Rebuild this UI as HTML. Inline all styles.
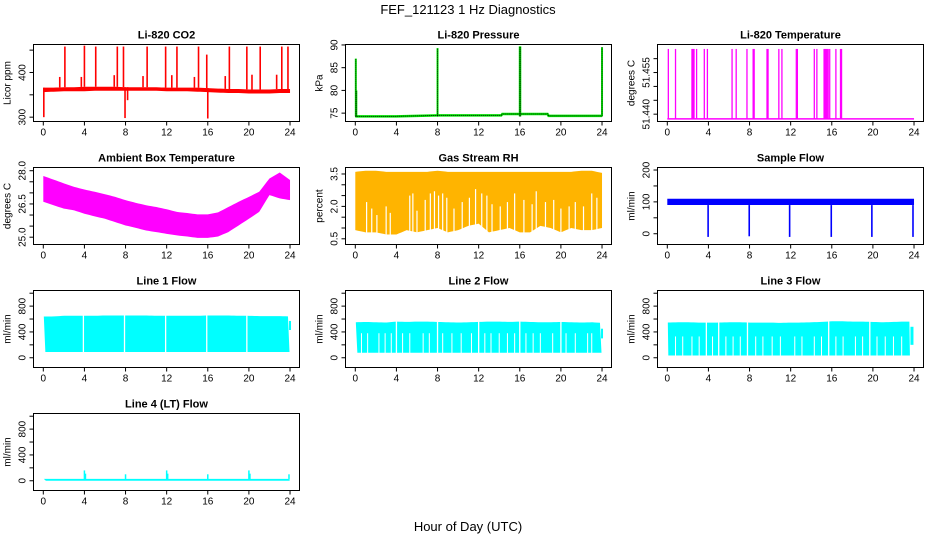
<!DOCTYPE html>
<html><head><meta charset="utf-8">
<style>
body{margin:0;background:#fff;}
svg{display:block;font-family:"Liberation Sans",Arial,sans-serif;}
</style></head>
<body>
<svg id="fig" width="936" height="540" viewBox="0 0 936 540" xmlns="http://www.w3.org/2000/svg">
<text x="468" y="14" text-anchor="middle" font-size="13">FEF_121123  1 Hz Diagnostics</text>
<text x="468" y="531" text-anchor="middle" font-size="13">Hour of Day (UTC)</text>
</svg>
<script>
// ---- data (hour of day) ----
const hours = [0,1,2,3,4,5,6,7,8,9,10,11,12,13,14,15,16,17,18,19,20,21,22,23,24];
const co2Lo = [356,357,358,358,358,359,359,359,359,359,359,359,358,358,358,357,356,355,354,354,353,353,353,354,354];
const co2Hi = [366,366,367,367,368,368,368,368,367,367,367,367,366,366,366,366,365,364,363,363,362,362,362,363,363];
const co2SpikeT = [0.05,1.6,2.1,3.7,4.0,5.1,6.9,7.2,7.8,7.95,8.2,9.7,10.1,11.9,12.5,13.0,14.7,15.1,15.9,16.0,17.7,18.1,19.8,20.3,21.1,22.7,23.2,23.8];
const co2SpikeV = [300,390,458,390,460,458,394,458,458,298,338,392,458,458,394,458,390,458,440,297,392,458,458,395,458,395,458,458];
const presT = [0,4,8,12,14.2,14.3,16,18.7,18.8,24];
const presV = [74.3,74.3,74.5,74.5,74.5,74.8,74.8,74.8,74.4,74.4];
const presSpikeT = [0.05,0.1,8.0,16.0,16.05,24.0];
const presSpikeV = [87,80,89.3,89.7,89.7,89.5];
const tempLow = 51.4383, tempHigh = 51.4635;
const tempSpikeT = [0.1,0.8,2.4,2.5,2.6,2.85,3.6,3.9,6.3,6.7,7.75,8.35,8.45,9.7,9.8,10.85,11.15,12.55,12.65,14.3,14.55,15.25,15.35,15.45,15.55,15.65,15.8,16.4,16.85,16.95];
const ambHi = [27.76,27.6,27.43,27.27,27.15,27.05,26.94,26.82,26.67,26.55,26.44,26.36,26.26,26.14,26.09,26.03,26.03,26.12,26.36,26.6,26.82,27.05,27.65,27.92,27.58];
const ambLo = [26.6,26.44,26.29,26.21,26.06,25.94,25.83,25.68,25.53,25.42,25.3,25.23,25.15,25.08,25.03,24.97,24.97,25.03,25.23,25.53,25.83,26.14,26.9,26.75,26.67];
const rhHi = [3.6,3.65,3.65,3.6,3.6,3.6,3.6,3.6,3.65,3.6,3.6,3.6,3.6,3.6,3.6,3.6,3.6,3.6,3.6,3.6,3.6,3.6,3.65,3.65,3.55];
const rhLo = [0.9,0.8,0.8,0.7,0.7,0.9,0.8,0.9,1.0,0.8,0.9,1.1,1.2,0.8,0.9,1.0,0.8,0.8,1.1,1.0,0.8,1.0,0.9,0.9,1.0];
const rhGapT = [1.1,1.6,2.1,3.0,3.4,5.3,5.6,6.0,6.8,7.3,7.7,8.1,8.5,8.9,9.6,10.4,11.1,11.7,12.3,12.8,13.3,14.1,14.8,15.5,16.4,17.2,17.6,18.5,19.3,20.0,20.8,21.4,22.2,23.0,23.5];
const rhGapV = [2.2,1.9,1.6,2.0,1.7,2.5,2.6,1.8,2.3,2.6,2.7,2.5,2.6,2.4,1.9,2.2,2.4,2.8,2.6,2.5,2.1,2.0,2.2,2.6,2.3,2.1,2.7,2.2,2.3,1.9,2.0,2.2,2.0,2.6,2.4];
const sfLo = 90, sfHi = 110;
const sfDipT = [3.97,7.97,11.9,15.95,19.9,23.9];
const sfDipV = [-10,-8,-10,-10,-10,-10];
const l1Lo = 90, l1Hi = [640,640,650,650,650,650,655,655,655,655,655,650,650,650,650,650,655,655,655,650,650,645,645,645,640];
const l1GapT = [3.9,7.9,11.9,15.9,19.8];
const l2Lo = 78, l2Hi = [550,555,550,545,560,555,560,560,555,550,545,550,555,560,560,555,560,555,550,550,555,550,545,550,540];
const l2GapT = [4.0,8.0,12.0,16.0,20.0];
const l2InnerT = [0.6,1.2,2.3,2.9,3.5,4.6,5.3,6.6,7.2,8.5,9.4,10.3,11.3,12.6,13.2,14.0,14.8,15.5,16.6,17.3,18.0,19.2,20.5,21.4,22.6,23.0];
const l3Lo = 35, l3Hi = [545,550,550,545,545,545,550,550,545,545,545,540,545,545,550,555,565,565,560,560,555,550,555,560,560];
const l3GapT = [3.8,5.0,7.8,15.7,19.7];
const l3InnerT = [0.8,1.5,2.4,3.1,4.4,5.7,6.4,7.1,8.6,9.3,10.2,11.0,12.4,13.1,14.3,15.0,16.4,17.1,18.3,19.0,20.4,21.2,22.0,22.8];
const l4Base = 15;
const l4SpikeT = [4.0,4.1,8.0,12.0,12.1,16.0,20.0,20.1,23.9];
const l4SpikeV = [160,110,100,160,110,100,160,110,100];

const xTicks = [0,4,8,12,16,20,24];
const NS = "http://www.w3.org/2000/svg";
const svg = document.getElementById('fig');
const colL = [33.5,345.5,657.5], rowT = [44.5,167.5,290.5,413.5], W = 266, H = 77;

function mk(tag, attrs, parent){const e=document.createElementNS(NS,tag);for(const k in attrs)e.setAttribute(k,attrs[k]);(parent||svg).appendChild(e);return e;}
function interp(arr,t){const i=Math.min(23,Math.floor(t));const f=t-i;return arr[i]*(1-f)+arr[i+1]*f;}

function panel(name,col,row,title,ylab,yMin,yMax,yTicks,yLabels){
  const L=colL[col],T=rowT[row];
  const g=mk('g',{});
  
  
  const sx=h=>L+9.8+h*10.28;
  const sy=v=>T+H-(v-yMin)/(yMax-yMin)*H;
  const tt=mk('text',{x:L+W/2,y:T-6,'text-anchor':'middle','font-size':11,'font-weight':'bold'},g);
  tt.textContent=title;
  
  
  const plot=mk('g',{},g);
  
  
  const ax=mk('g',{stroke:'#000','stroke-width':1,fill:'none'},g);
  
  
  mk('rect',{x:L,y:T,width:W,height:H},ax);
  xTicks.forEach(h=>{const x=sx(h);mk('line',{x1:x,y1:T+H,x2:x,y2:T+H+4},ax);
    const t=mk('text',{x:x,y:T+H+14,'text-anchor':'middle','font-size':10,fill:'#000',stroke:'none'},g);t.textContent=h;
    
    });
  yTicks.forEach(v=>{const y=sy(v);mk('line',{x1:L,y1:y,x2:L-4,y2:y},ax);});
  yLabels.forEach(v=>{const y=sy(v);const t=mk('text',{x:L-8,y:y,'text-anchor':'middle','font-size':10,transform:`rotate(-90 ${L-8} ${y})`},g);t.textContent=v;
    
    });
  const yl=mk('text',{x:L-23,y:T+H/2,'text-anchor':'middle','font-size':10,transform:`rotate(-90 ${L-23} ${T+H/2})`},g);
  yl.textContent=ylab;
  
  
  return {sx,sy,plot};
}
function band(p,lo,hi,fill,t0,t1){
  t0=t0||0;t1=t1===undefined?24:t1;
  const pts=[];
  for(let t=t0;t<=t1+1e-9;t+=0.25)pts.push(p.sx(t)+','+p.sy(typeof hi==='number'?hi:interp(hi,t)));
  for(let t=t1;t>=t0-1e-9;t-=0.25)pts.push(p.sx(t)+','+p.sy(typeof lo==='number'?lo:interp(lo,t)));
  const e=mk('polygon',{points:pts.join(' '),fill:fill},p.plot);
  
  
}
function vline(p,t,v0,v1,color,w,name){
  const e=mk('line',{x1:p.sx(t),x2:p.sx(t),y1:p.sy(v0),y2:p.sy(v1),stroke:color,'stroke-width':w||1},p.plot);
  
  
}

// CO2
let p=panel('co2',0,0,'Li-820 CO2','Licor ppm',290.3,462.6,[300,350,400,450],[300,400]);
band(p,co2Lo,co2Hi,'#ff0000');
co2SpikeT.forEach((t,i)=>vline(p,t,interp(co2Hi,t),co2SpikeV[i],'#ff0000',1.6,'co2-spike'));
// Pressure
p=panel('pressure',1,0,'Li-820 Pressure','kPa',73.16,90.1,[75,80,85,90],[75,80,85,90]);
{let d='';presT.forEach((t,i)=>{d+=(i?'L':'M')+p.sx(t)+','+p.sy(presV[i]);});
 const e=mk('path',{d:d,stroke:'#00ee00','stroke-width':2.5,fill:'none'},p.plot);
 
 
 presSpikeT.forEach((t,i)=>vline(p,t,presV[0],presSpikeV[i],'#00ee00',2,'pressure-spike'));
 const e2=mk('path',{d:d,stroke:'#000','stroke-width':1,'stroke-dasharray':'1,1',fill:'none'},p.plot);
 
 
 presSpikeT.forEach((t,i)=>{const s=mk('line',{x1:p.sx(t),x2:p.sx(t),y1:p.sy(presV[0]),y2:p.sy(presSpikeV[i]),stroke:'#000','stroke-dasharray':'1,1'},p.plot);
  
  });}
// Temperature
p=panel('li820-temp',2,0,'Li-820 Temperature','degrees C',51.43736,51.4651,[51.440,51.445,51.450,51.455,51.460],['51.440','51.455']);
{const e=mk('line',{x1:p.sx(0),x2:p.sx(24),y1:p.sy(tempLow),y2:p.sy(tempLow),stroke:'#ff00ff','stroke-width':1.5},p.plot);
 
 
 tempSpikeT.forEach(t=>vline(p,t,tempLow,tempHigh,'#ff00ff',1.3,'temp-spike'));}
// Ambient
p=panel('ambient',0,1,'Ambient Box Temperature','degrees C',24.67,28.145,[25,25.5,26,26.5,27,27.5,28],['25.0','26.5','28.0']);
band(p,ambLo,ambHi,'#ff00ff');
// RH
p=panel('rh',1,1,'Gas Stream RH','percent',0.236,3.8,[0.5,1,1.5,2,2.5,3,3.5],['0.5','2.0','3.5']);
band(p,rhLo,rhHi,'#ffb400');
rhGapT.forEach((t,i)=>vline(p,t,interp(rhLo,t)-0.05,rhGapV[i],'#ffffff',1.2,'rh-gap'));
// Sample flow
p=panel('sample-flow',2,1,'Sample Flow','ml/min',-33.8,207.9,[0,50,100,150,200],[0,100,200]);
band(p,sfLo,sfHi,'#0000ff');
sfDipT.forEach((t,i)=>vline(p,t,sfLo,sfDipV[i],'#0000ff',1.6,'sample-flow-dip'));
// Line flows
const fT=[0,200,400,600,800,1000], fL=[0,400,800];
p=panel('line1-flow',0,2,'Line 1 Flow','ml/min',-151,1042,fT,fL);
band(p,l1Lo,l1Hi,'#00ffff',0.05,23.95);
l1GapT.forEach(t=>vline(p,t,l1Lo-5,700,'#ffffff',1.3,'line1-gap'));
vline(p,24,430,570,'#00ffff',2,'line1-end');
p=panel('line2-flow',1,2,'Line 2 Flow','ml/min',-151,1042,fT,fL);
band(p,l2Lo,l2Hi,'#00ffff',0.05,23.95);
l2GapT.forEach(t=>vline(p,t,l2Lo-5,600,'#ffffff',1.3,'line2-gap'));
l2InnerT.forEach(t=>vline(p,t,l2Lo-5,380,'#ffffff',1,'line2-inner-gap'));
vline(p,24,300,450,'#00ffff',2,'line2-end');
p=panel('line3-flow',2,2,'Line 3 Flow','ml/min',-151,1042,fT,fL);
band(p,l3Lo,l3Hi,'#00ffff',0.05,23.6);
l3GapT.forEach(t=>vline(p,t,l3Lo-5,600,'#ffffff',1.3,'line3-gap'));
l3InnerT.forEach(t=>vline(p,t,l3Lo-5,330,'#ffffff',1,'line3-inner-gap'));
vline(p,23.8,200,480,'#00ffff',3,'line3-end');
p=panel('line4-flow',0,3,'Line 4 (LT) Flow','ml/min',-151,1042,fT,fL);
band(p,0,l4Base*2,'#00ffff',0.05,24);
l4SpikeT.forEach((t,i)=>vline(p,t,l4Base,l4SpikeV[i],'#00ffff',1.5,'line4-spike'));
</script>
</body></html>
